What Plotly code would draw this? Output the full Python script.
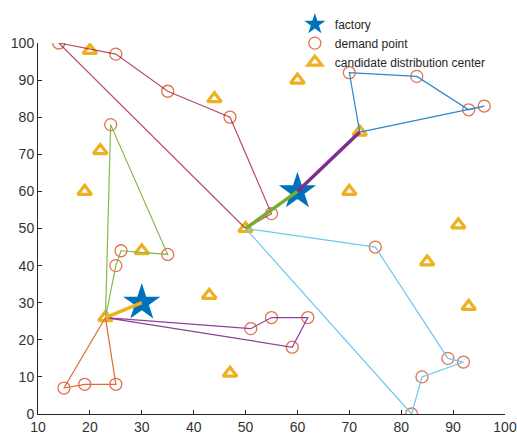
import plotly.graph_objects as go

# Site coordinates
factory_x = [30, 60]
factory_y = [30, 60]

demand_x = [14, 25, 35, 47, 55, 70, 83, 93, 96, 75, 89, 92, 84, 82,
            51, 55, 62, 59, 24, 35, 26, 25, 25, 19, 15]
demand_y = [100, 97, 87, 80, 54, 92, 91, 82, 83, 45, 15, 14, 10, 0,
            23, 26, 26, 18, 78, 43, 44, 40, 8, 8, 7]

center_x = [20, 44, 22, 19, 60, 72, 70, 50, 30, 43, 23, 47, 91, 85, 93]
center_y = [98, 85, 71, 60, 90, 76, 60, 50, 44, 32, 26, 11, 51, 41, 29]

# Delivery routes: each starts and ends at a distribution center
route_blue_x = [72, 70, 83, 93, 96, 72]
route_blue_y = [76, 92, 91, 82, 83, 76]
route_red_x = [50, 55, 47, 35, 25, 14, 50]
route_red_y = [50, 54, 80, 87, 97, 100, 50]
route_cyan_x = [50, 75, 89, 92, 84, 82, 50]
route_cyan_y = [50, 45, 15, 14, 10, 0, 50]
route_purple_x = [23, 51, 55, 62, 59, 23]
route_purple_y = [26, 23, 26, 26, 18, 26]
route_green_x = [23, 24, 35, 26, 25, 23]
route_green_y = [26, 78, 43, 44, 40, 26]
route_orange_x = [23, 25, 19, 15, 23]
route_orange_y = [26, 8, 8, 7, 26]

# Supply links from factories to distribution centers
supply_yellow_x = [30, 23]
supply_yellow_y = [30, 26]
supply_green_x = [60, 50]
supply_green_y = [60, 50]
supply_purple_x = [60, 72]
supply_purple_y = [60, 76]

fig = go.Figure()

fig.add_trace(go.Scatter(
    x=center_x, y=center_y, mode="markers", name="candidate distribution center",
    legendrank=3,
    marker=dict(symbol="triangle-up-open", size=12, color="#EDB120",
                line=dict(width=3.2, color="#EDB120"))))
fig.add_trace(go.Scatter(
    x=demand_x, y=demand_y, mode="markers", name="demand point",
    legendrank=2,
    marker=dict(symbol="circle-open", size=12, color="#E2734F",
                line=dict(width=1.3, color="#E2734F"))))
fig.add_trace(go.Scatter(
    x=factory_x, y=factory_y, mode="markers", name="factory",
    legendrank=1,
    marker=dict(symbol="star", size=28, color="#0072BD",
                line=dict(width=0))))

thin = [
    (route_blue_x, route_blue_y, "#2B87C8"),
    (route_red_x, route_red_y, "rgba(162,20,47,0.75)"),
    (route_cyan_x, route_cyan_y, "#6CC8F0"),
    (route_purple_x, route_purple_y, "#8E3F9E"),
    (route_green_x, route_green_y, "#86B84A"),
    (route_orange_x, route_orange_y, "#E0683A"),
]
for xs, ys, c in thin:
    fig.add_trace(go.Scatter(x=xs, y=ys, mode="lines", showlegend=False,
                             line=dict(color=c, width=1.2), hoverinfo="skip"))

thick = [
    (supply_yellow_x, supply_yellow_y, "#EDB120"),
    (supply_green_x, supply_green_y, "#77AC30"),
    (supply_purple_x, supply_purple_y, "#7E2F8E"),
]
for xs, ys, c in thick:
    fig.add_trace(go.Scatter(x=xs, y=ys, mode="lines", showlegend=False,
                             line=dict(color=c, width=3.5), hoverinfo="skip"))

axis_common = dict(
    showgrid=False, zeroline=False, showline=True, mirror=False,
    linecolor="#262626", linewidth=1, ticks="inside", ticklen=4,
    tickcolor="#262626", automargin=False, ticklabeloverflow="allow",
    tickfont=dict(family="Arial", size=14, color="#333333"),
)

fig.update_layout(
    width=517, height=439,
    margin=dict(l=38, r=12, t=43, b=25, autoexpand=False),
    paper_bgcolor="white", plot_bgcolor="white",
    xaxis=dict(range=[10, 100], dtick=10, **axis_common),
    yaxis=dict(range=[0, 100], dtick=10, **axis_common),
    legend=dict(x=0.55, y=1.09, xanchor="left", yanchor="top",
                bgcolor="rgba(0,0,0,0)", borderwidth=0,
                font=dict(family="Arial", size=12, color="#262626"),
                itemsizing="trace", tracegroupgap=0),
    showlegend=True,
)

fig.write_html("out.html")
